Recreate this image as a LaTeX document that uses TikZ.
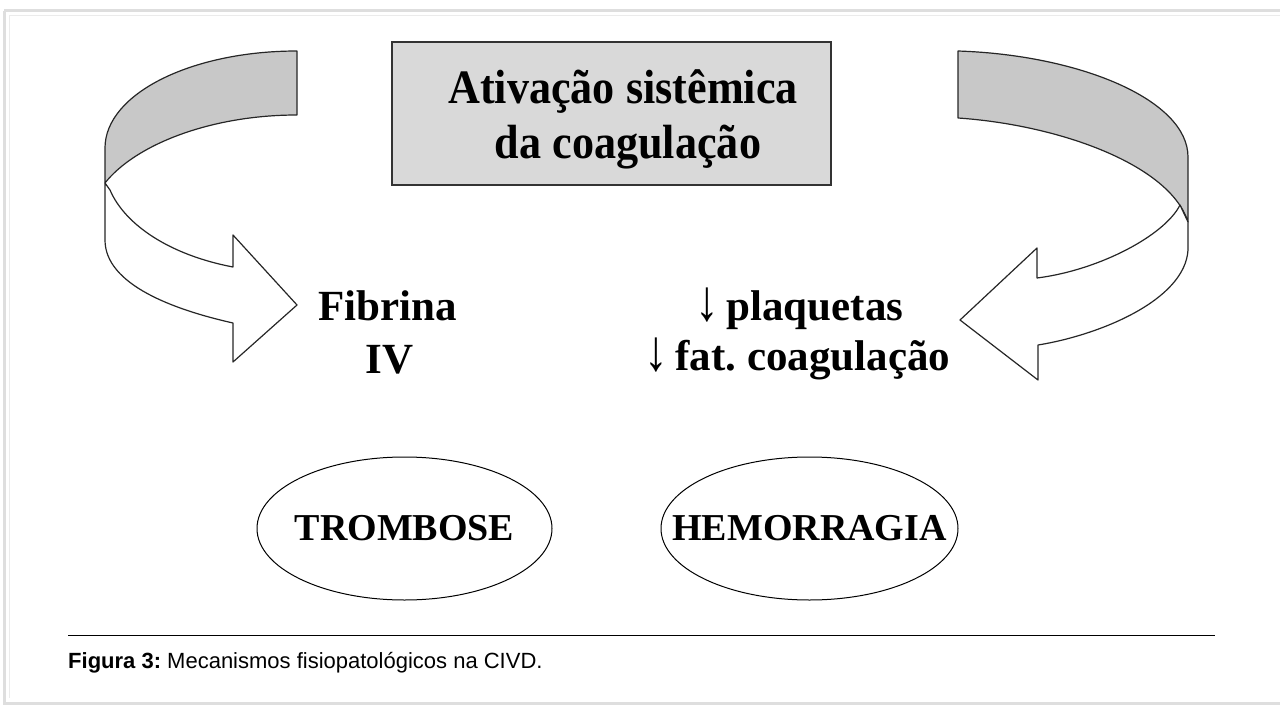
\documentclass[tikz,border=0pt]{standalone}
\usepackage{fontspec}
\setmainfont{Liberation Serif}
\newfontfamily\titlefont[FakeStretch=0.92]{Liberation Serif}
\newfontfamily\capfont{Liberation Sans}
\usetikzlibrary{shapes.geometric}
\definecolor{boxgray}{RGB}{217,217,217}
\definecolor{bandgray}{RGB}{200,200,200}
\definecolor{framegray}{RGB}{222,222,222}
\tikzset{
  bigtext/.style={anchor=base, font=\bfseries\fontsize{43}{50}\selectfont},
  headtext/.style={anchor=base, font=\titlefont\bfseries\fontsize{48}{54}\selectfont},
  oval/.style={draw, ellipse, line width=1pt, inner sep=0pt,
    minimum width=295pt, minimum height=143pt},
  ovaltext/.style={inner sep=0pt, font=\bfseries\fontsize{38}{40}\selectfont},
  band/.style={draw=black!85, line width=1.2pt, fill=bandgray, line join=round},
  front/.style={draw=black!85, line width=1.2pt, fill=white, line join=round}
}
\newcommand{\baixa}{{\mdseries\scalebox{1.1}[1.35]{↓}}}
\begin{document}
\frenchspacing
\begin{tikzpicture}[x=1pt, y=-1pt]
  \useasboundingbox (0,0) rectangle (1280,706);
	\draw[framegray, line width=3pt] (4,11) -- (1285,11);
	\draw[framegray, line width=3pt] (4,11) -- (4,703) -- (1285,703);
	\draw[framegray!60, line width=1pt] (9,16) -- (1285,16);
	\draw[framegray!60, line width=1pt] (9,16) -- (9,698);
	% caixa de cima
	\node [draw=black!80, line width=1.5pt, fill=boxgray, minimum width=439pt, minimum height=143pt] (ativ) at (611.5,113.5) {};
	\node [headtext] (ativA) at (623,104) {Ativação sistêmica};
	\node [headtext] (ativB) at (628,158) {da coagulação};
	% seta da esquerda
	\draw[band] (297,51) .. controls (191,51) and (105,94) .. (105,148) -- (105,183)
	   .. controls (135,145) and (210,115) .. (297,115) -- cycle;
	\draw[front] (105,183) -- (105,240) .. controls (105,285) and (175,310) .. (233,323)
	   -- (233,362) -- (297,305) -- (233,235) -- (233,267)
	   .. controls (170,255) and (125,225) .. (110,190) -- cycle;
	% seta da direita
	\draw[band] (958,51) .. controls (1080,55) and (1188,100) .. (1188,157) -- (1188,222)
	   .. controls (1170,165) and (1060,125) .. (958,118) -- cycle;
	\draw[front] (1188,222) -- (1188,250) .. controls (1185,300) and (1100,335) .. (1038,345)
	   -- (1038,380) -- (960,320) -- (1037,248) -- (1037,278)
	   .. controls (1100,270) and (1165,235) .. (1180,205) -- cycle;
	% textos do meio
	\node [bigtext] (fib) at (387.5,320) {Fibrina};
	\node [bigtext] (fibIV) at (389.5,373) {IV};
	\node [bigtext] (plaq) at (799.5,320) {\baixa\,plaquetas};
	\node [bigtext] (fator) at (797.5,370) {\baixa\,fat. coagulação};
	% elipses
	\node [oval] (tromb) at (404.5,528.5) {};
	\node [ovaltext] (trombT) at (tromb.center) {TROMBOSE};
	\node [oval, minimum width=297pt] (hemo) at (809.5,528.5) {};
	\node [ovaltext] (hemoT) at (hemo.center) {HEMORRAGIA};
	% legenda
	\coordinate (ruleL) at (68,635);
	\coordinate (ruleR) at (1215,635);
	\draw[line width=1pt] (ruleL) -- (ruleR);
	\node [anchor=base west, inner sep=0pt, font=\capfont\fontsize{22}{24}\selectfont] (legenda) at (68,668) {\textbf{Figura 3:} Mecanismos fisiopatológicos na CIVD.};
\end{tikzpicture}
\end{document}
